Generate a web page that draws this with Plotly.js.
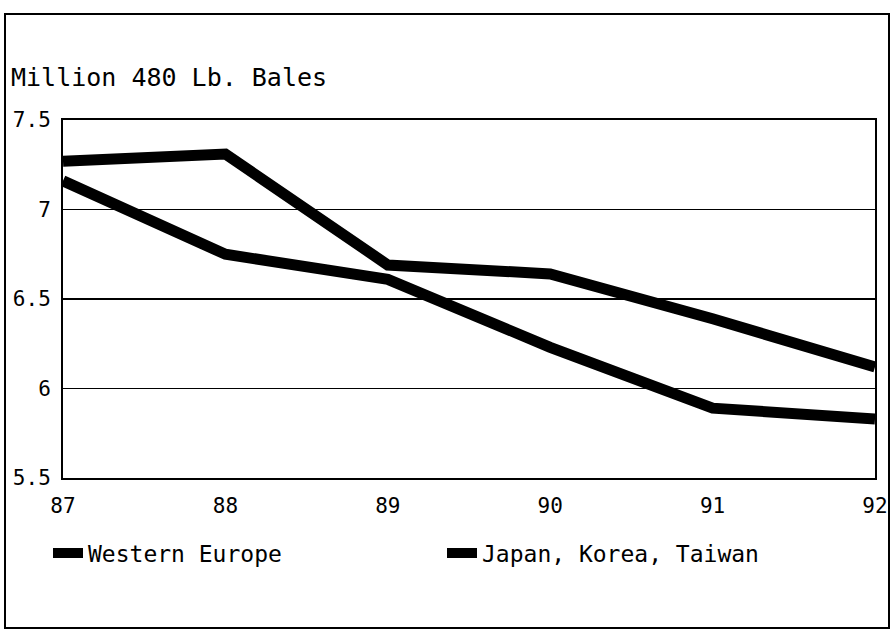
<!DOCTYPE html>
<html>
<head>
<meta charset="utf-8">
<script src="https://cdn.plot.ly/plotly-3.0.1.min.js"></script>
<style>
html,body{margin:0;padding:0;background:#fff;}
#chart{width:894px;height:634px;}
</style>
</head>
<body>
<div id="chart"></div>
<script>
const years = ["87", "88", "89", "90", "91", "92"];
const westernEurope = [7.27, 7.31, 6.69, 6.64, 6.39, 6.12];
const japanKoreaTaiwan = [7.16, 6.75, 6.61, 6.23, 5.89, 5.83];
const yTicks = [5.5, 6, 6.5, 7, 7.5];
const yTickText = ["5.5", "6", "6.5", "7", "7.5"];
const seriesNames = ["Western Europe", "Japan, Korea, Taiwan"];

const FONT = "DejaVu Sans Mono, monospace";
const L = 63, R = 19, T = 120, B = 156, W = 894, H = 634;
const pw = W - L - R, ph = H - T - B;
const px = x => (x - L) / pw;
const py = y => (H - B - y) / ph;

const traces = [
  {x: years.map(Number), y: westernEurope, name: seriesNames[0], type: "scatter", mode: "lines",
   line: {color: "#000", width: 11}},
  {x: years.map(Number), y: japanKoreaTaiwan, name: seriesNames[1], type: "scatter", mode: "lines",
   line: {color: "#000", width: 11}}
];

const layout = {
  width: W, height: H,
  margin: {l: L, r: R, t: T, b: B, pad: 0},
  paper_bgcolor: "#fff", plot_bgcolor: "#fff",
  font: {family: FONT, color: "#000", size: 20},
  showlegend: true,
  legend: {orientation: "h", x: px(48), xanchor: "left", y: py(553), yanchor: "middle",
           font: {family: FONT, size: 23, color: "#000"}, entrywidth: 349, entrywidthmode: "pixels",
           itemwidth: 30, bgcolor: "rgba(0,0,0,0)"},
  xaxis: {range: [87, 92], tickvals: years.map(Number), ticktext: years, showgrid: false,
          zeroline: false, showline: true, linecolor: "#000", linewidth: 2, mirror: true,
          ticks: "", ticklabelstandoff: 8, tickfont: {family: FONT, size: 21, color: "#000"}},
  yaxis: {range: [5.5, 7.5], tickvals: yTicks, ticktext: yTickText, showgrid: true,
          gridcolor: "#000", gridwidth: 1.5, zeroline: false, showline: true, linecolor: "#000",
          linewidth: 2, mirror: true, ticks: "", ticklabelstandoff: 6,
          tickfont: {family: FONT, size: 21, color: "#000"},
          title: {text: ""}},
  annotations: [
    {xref: "paper", yref: "paper", x: px(9), y: py(77), xanchor: "left", yanchor: "middle",
     text: "Million 480 Lb. Bales", showarrow: false, font: {family: FONT, size: 25, color: "#000"}}
  ],
  shapes: [
    {type: "rect", xref: "paper", yref: "paper", x0: px(5), x1: px(889), y0: py(628), y1: py(14),
     line: {color: "#000", width: 2}, fillcolor: "rgba(0,0,0,0)", layer: "below"}
  ]
};

Plotly.newPlot("chart", traces, layout, {displayModeBar: false, staticPlot: true});
</script>
</body>
</html>
